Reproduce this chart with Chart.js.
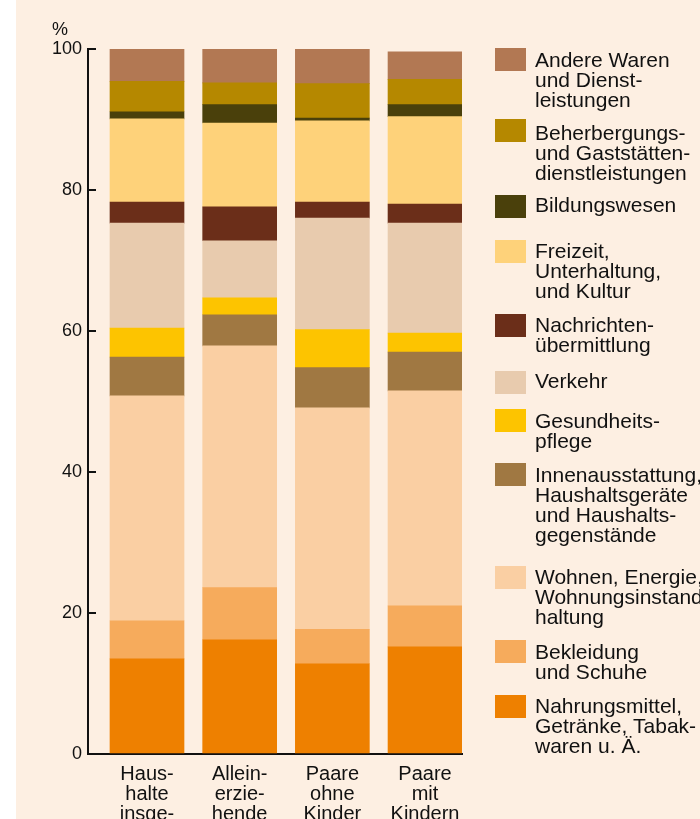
<!DOCTYPE html>
<html>
<head>
<meta charset="utf-8">
<script src="https://cdn.jsdelivr.net/npm/chart.js@4/dist/chart.umd.min.js"></script>
<style>
  body { margin: 0; background: #fff; }
  canvas { display: block; }
</style>
</head>
<body>
<canvas id="Konsum" width="700" height="819"></canvas>
<script>
// Kategorien (x-Achse), mehrzeilig wie im Original
var categories = [
  ["Haus-", "halte", "insge-", "samt"],
  ["Allein-", "erzie-", "hende"],
  ["Paare", "ohne", "Kinder"],
  ["Paare", "mit", "Kindern"]
];

// Anteile in %, von unten nach oben gestapelt
var nahrung      = [13.5, 16.2, 12.8, 15.2];
var bekleidung   = [5.4, 7.4, 4.9, 5.8];
var wohnen       = [31.9, 34.3, 31.4, 30.5];
var innen        = [5.5, 4.4, 5.7, 5.5];
var gesundheit   = [4.1, 2.4, 5.4, 2.7];
var verkehr      = [14.9, 8.1, 15.8, 15.6];
var nachrichten  = [3.0, 4.8, 2.3, 2.7];
var freizeit     = [11.8, 11.9, 11.5, 12.4];
var bildung      = [1.0, 2.6, 0.4, 1.7];
var beherbergung = [4.3, 3.1, 4.9, 3.6];
var andere       = [4.6, 4.8, 4.9, 3.9];

var yTicks = [0, 20, 40, 60, 80, 100];

// Series: values, legend text lines, colour
var series = [
  [nahrung, ["Nahrungsmittel,", "Getränke, Tabak-", "waren u. Ä."], "#EE8000"],
  [bekleidung, ["Bekleidung", "und Schuhe"], "#F6AB5C"],
  [wohnen, ["Wohnen, Energie,", "Wohnungsinstand-", "haltung"], "#FACFA3"],
  [innen, ["Innenausstattung,", "Haushaltsgeräte", "und Haushalts-", "gegenstände"], "#A07842"],
  [gesundheit, ["Gesundheits-", "pflege"], "#FDC400"],
  [verkehr, ["Verkehr"], "#E8CBAE"],
  [nachrichten, ["Nachrichten-", "übermittlung"], "#6B2E19"],
  [freizeit, ["Freizeit,", "Unterhaltung,", "und Kultur"], "#FED27A"],
  [bildung, ["Bildungswesen"], "#4A400B"],
  [beherbergung, ["Beherbergungs-", "und Gaststätten-", "dienstleistungen"], "#B58800"],
  [andere, ["Andere Waren", "und Dienst-", "leistungen"], "#B27853"]
];

var datasets = series.map(function (s) {
  return {
    label: s[1].join(" "),
    legendLines: s[1],
    data: s[0].map(function (v, i) { return {x: i, y: v}; }),
    backgroundColor: s[2],
    borderWidth: 0,
    barThickness: 74
  };
});

// legend layout (top to bottom, starting with the last dataset)
var legendBoxTop = [48, 119, 195, 240, 314, 371, 409, 463, 566, 640, 695];
var legendBaseline = [67, 140, 212, 258, 332, 388, 428, 482, 584, 659, 713];

var decor = {
  id: 'decor',
  beforeDraw: function (chart) {
    var c = chart.ctx;
    c.save();
    c.fillStyle = '#ffffff';
    c.fillRect(0, 0, chart.width, chart.height);
    c.fillStyle = '#FDEFE2';
    c.fillRect(16, 0, chart.width - 16, chart.height);
    c.restore();
  },
  afterDraw: function (chart) {
    var c = chart.ctx;
    c.save();
    c.fillStyle = '#111111';
    c.textAlign = 'left';
    c.textBaseline = 'alphabetic';
    c.font = '18px "Liberation Sans", Arial, sans-serif';
    c.fillText('%', 52, 35);

    c.font = '21px "Liberation Sans", Arial, sans-serif';
    var ds = chart.data.datasets;
    for (var k = 0; k < ds.length; k++) {
      var d = ds[ds.length - 1 - k];
      c.fillStyle = d.backgroundColor;
      c.fillRect(495, legendBoxTop[k], 31, 23);
      c.fillStyle = '#111111';
      d.legendLines.forEach(function (t, j) {
        c.fillText(t, 535, legendBaseline[k] + j * 20);
      });
    }
    c.restore();
  }
};

Chart.defaults.font.family = '"Liberation Sans", Arial, sans-serif';
Chart.defaults.color = '#111111';

new Chart("Konsum", {
  type: "bar",
  data: { datasets: datasets },
  plugins: [decor],
  options: {
    responsive: false,
    animation: false,
    layout: { padding: { left: 0, right: 238, top: 49, bottom: 0 } },
    plugins: {
      legend: { display: false },
      tooltip: { enabled: false }
    },
    scales: {
      x: {
        type: 'linear',
        stacked: true,
        offset: false,
        min: -0.6367,
        max: 3.399,
        grid: { display: false },
        border: { display: true, color: '#111111', width: 2 },
        afterBuildTicks: function (s) {
          s.ticks = categories.map(function (c, i) { return {value: i}; });
        },
        afterFit: function (s) { s.height = 65; },
        ticks: {
          autoSkip: false,
          maxRotation: 0,
          padding: 2,
          font: { size: 20, lineHeight: 1.0 },
          callback: function (v) { return categories[v]; }
        }
      },
      y: {
        stacked: true,
        min: 0,
        max: 100,
        afterBuildTicks: function (s) {
          s.ticks = yTicks.map(function (v) { return {value: v}; });
        },
        afterFit: function (s) { s.width = 88; },
        grid: {
          drawOnChartArea: false,
          drawTicks: true,
          tickLength: -8,
          color: '#111111',
          lineWidth: 2
        },
        border: { display: true, color: '#111111', width: 2 },
        ticks: {
          padding: 14,
          font: { size: 18 }
        }
      }
    }
  }
});
</script>
</body>
</html>
